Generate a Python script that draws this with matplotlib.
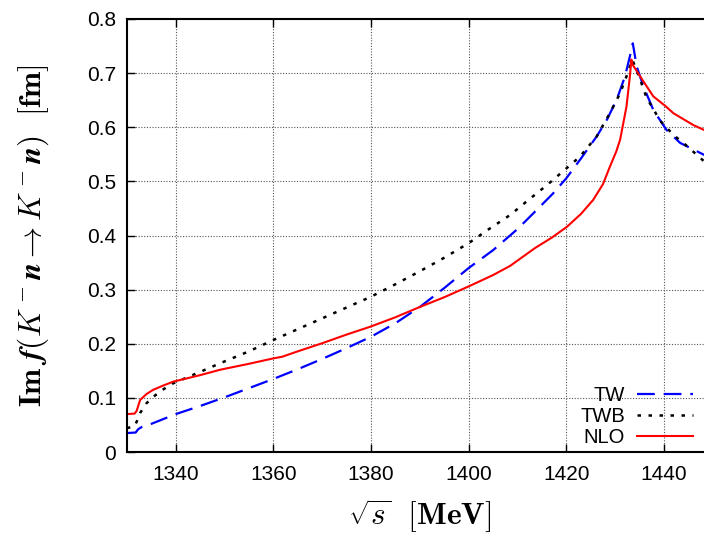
import matplotlib
matplotlib.use("Agg")
import matplotlib.pyplot as plt

# sqrt(s) [MeV] and Im f [fm]
tw_s = [1330.0, 1331.8, 1332.3, 1333.0, 1335.0, 1340.0, 1345.0, 1350.0, 1355.0, 1360.0,
        1365.0, 1370.0, 1375.0, 1380.0, 1385.0, 1390.0, 1395.0, 1400.0, 1405.0, 1410.0,
        1413.9, 1417.3, 1420.0, 1422.8, 1426.2, 1428.3, 1430.3, 1432.0, 1433.0, 1433.6,
        1434.4, 1435.8, 1437.8, 1440.5, 1443.3, 1448.2, 1450.0]
tw_v = [0.035, 0.036, 0.042, 0.046, 0.052, 0.070, 0.085, 0.101, 0.118, 0.135,
        0.153, 0.172, 0.192, 0.213, 0.238, 0.268, 0.303, 0.340, 0.373, 0.412,
        0.447, 0.478, 0.506, 0.540, 0.583, 0.614, 0.651, 0.694, 0.731, 0.755,
        0.712, 0.675, 0.632, 0.595, 0.571, 0.549, 0.542]

twb_s = [1330.0, 1331.6, 1332.2, 1332.7, 1334.0, 1335.4, 1337.5, 1339.5, 1345.0, 1349.1,
         1355.0, 1360.0, 1365.0, 1370.0, 1375.0, 1380.0, 1385.0, 1390.0, 1395.0, 1400.0,
         1404.0, 1408.5, 1412.0, 1416.0, 1420.0, 1422.8, 1426.2, 1428.9, 1431.0, 1432.3,
         1433.5, 1435.1, 1436.4, 1439.2, 1441.9, 1444.6, 1448.2, 1450.0]
twb_v = [0.044, 0.048, 0.060, 0.072, 0.090, 0.102, 0.116, 0.127, 0.148, 0.164,
         0.186, 0.207, 0.227, 0.247, 0.267, 0.287, 0.310, 0.334, 0.359, 0.386,
         0.411, 0.438, 0.464, 0.493, 0.524, 0.546, 0.583, 0.626, 0.663, 0.694,
         0.725, 0.688, 0.655, 0.612, 0.586, 0.566, 0.537, 0.528]

nlo_s = [1330.0, 1331.6, 1332.0, 1332.7, 1334.0, 1335.4, 1337.5, 1339.5, 1345.0, 1349.1,
         1355.0, 1360.0, 1361.8, 1365.0, 1370.0, 1375.0, 1380.0, 1385.0, 1390.0, 1395.0,
         1400.0, 1405.0, 1408.5, 1413.6, 1417.0, 1420.1, 1423.0, 1425.5, 1427.5, 1428.9,
         1430.2, 1431.0, 1432.3, 1433.0, 1433.3, 1433.6, 1435.1, 1437.8, 1440.3, 1441.9,
         1446.0, 1448.2, 1450.0]
nlo_v = [0.070, 0.071, 0.076, 0.096, 0.107, 0.115, 0.123, 0.130, 0.142, 0.152,
         0.163, 0.173, 0.176, 0.186, 0.201, 0.217, 0.232, 0.249, 0.268, 0.286,
         0.306, 0.327, 0.344, 0.377, 0.396, 0.416, 0.440, 0.466, 0.495, 0.527,
         0.555, 0.577, 0.638, 0.694, 0.725, 0.715, 0.694, 0.657, 0.639, 0.626,
         0.604, 0.595, 0.591]

x_ticks = [1340, 1360, 1380, 1400, 1420, 1440]
y_ticks = [0, 0.1, 0.2, 0.3, 0.4, 0.5, 0.6, 0.7, 0.8]
y_tick_labels = ["0", "0.1", "0.2", "0.3", "0.4", "0.5", "0.6", "0.7", "0.8"]

plt.rcParams["font.family"] = ["Liberation Sans", "DejaVu Sans"]
plt.rcParams["mathtext.fontset"] = "cm"

fig = plt.figure(figsize=(7.04, 5.35), dpi=100)
# axes run to 1450 MeV, slightly past the right edge of the picture (cropped like the original)
ax = fig.add_axes([126.9 / 704, 83 / 535, 586 / 704, 433 / 535])

ax.plot(tw_s, tw_v, color="#0000ff", lw=1.6, dashes=(8, 4), label="TW")
ax.plot(twb_s, twb_v, color="black", lw=1.8, dashes=(1.4, 3.0), label="TWB")
ax.plot(nlo_s, nlo_v, color="#ff0000", lw=1.5, label="NLO")

ax.set_xlim(1330, 1450)
ax.set_ylim(0, 0.8)
ax.set_xticks(x_ticks)
ax.set_yticks(y_ticks)
ax.set_yticklabels(y_tick_labels)
ax.tick_params(direction="in", length=6, width=1, labelsize=15, top=True, right=True,
               colors="black")
ax.tick_params(axis="x", pad=9)
ax.tick_params(axis="y", pad=8)
ax.grid(True, color="#555555", linestyle=(0, (1, 1.5)), linewidth=0.8)
for sp in ax.spines.values():
    sp.set_linewidth(1.5)

ax.set_xlabel(r"$\boldsymbol{\sqrt{s}}\ \ \mathbf{[MeV]}$", fontsize=22.5)
ax.xaxis.set_label_coords(0.5, -0.105)
ax.set_ylabel(r"$\mathbf{Im}\ \boldsymbol{f(K^-n \to K^-n)}\ \ \mathbf{[fm]}$", fontsize=22.5)
ax.yaxis.set_label_coords(-0.13, 0.5)

leg = ax.legend(loc="lower right", bbox_to_anchor=(0.984, -0.012), frameon=False,
                markerfirst=False, fontsize=14.5, handlelength=2.8, handletextpad=0.6,
                labelspacing=0.1, borderaxespad=0.1)
for t in leg.get_texts():
    t.set_ha("right")

fig.savefig("out.png", dpi=100)
